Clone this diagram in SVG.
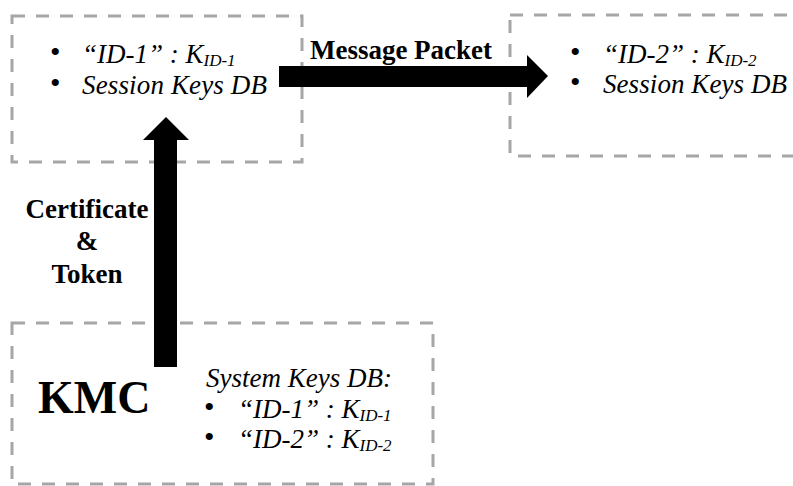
<svg xmlns="http://www.w3.org/2000/svg" width="793" height="486" viewBox="0 0 793 486">
  <style>
    .box { fill: none; stroke: #a6a6a6; stroke-width: 3; stroke-dasharray: 13 11; }
    .it { font-family: "Liberation Serif", "Times New Roman", serif; font-style: italic; font-size: 27px; fill: #000; }
    .sub { font-size: 17px; }
    .bul { font-family: "Liberation Serif", "Times New Roman", serif; font-size: 30px; fill: #000; }
    .bold { font-family: "Liberation Serif", "Times New Roman", serif; font-weight: bold; font-size: 27px; fill: #000; }
    .arrow { fill: #000; }
  </style>
  <rect width="793" height="486" fill="#fff"/>

  <!-- sender node -->
  <g id="node-id1">
    <rect class="box" x="12" y="16" width="290" height="146"/>
    <text class="bul" x="50" y="62">•</text>
    <text class="it" x="82" y="63">“ID-1” : K<tspan class="sub" dy="3">ID-1</tspan></text>
    <text class="bul" x="50" y="93">•</text>
    <text class="it" x="82" y="94" textLength="185">Session Keys DB</text>
  </g>

  <!-- receiver node -->
  <g id="node-id2">
    <rect class="box" x="510" y="15" width="300" height="141"/>
    <text class="bul" x="570" y="62">•</text>
    <text class="it" x="603" y="63">“ID-2” : K<tspan class="sub" dy="3">ID-2</tspan></text>
    <text class="bul" x="570" y="92">•</text>
    <text class="it" x="603" y="93" textLength="184">Session Keys DB</text>
  </g>

  <!-- key management centre -->
  <g id="node-kmc">
    <rect class="box" x="12" y="323" width="421" height="161"/>
    <text class="bold" x="38" y="413" style="font-size:46px">KMC</text>
    <text class="it" x="206" y="387" textLength="186">System Keys DB:</text>
    <text class="bul" x="204" y="417">•</text>
    <text class="it" x="238" y="418">“ID-1” : K<tspan class="sub" dy="3">ID-1</tspan></text>
    <text class="bul" x="204" y="447">•</text>
    <text class="it" x="238" y="448">“ID-2” : K<tspan class="sub" dy="3">ID-2</tspan></text>
  </g>

  <!-- connectors -->
  <g id="connectors">
    <polygon class="arrow" points="154,367 154,140 143,140 166,117 189,140 177,140 177,367"/>
    <polygon class="arrow" points="279,66 527,66 527,55 548,76 527,98 527,87 279,87"/>
    <text class="bold" x="310" y="59" textLength="182">Message Packet</text>
    <text class="bold" x="87" y="218" text-anchor="middle">Certificate</text>
    <text class="bold" x="87" y="250" text-anchor="middle">&amp;</text>
    <text class="bold" x="87" y="283" text-anchor="middle">Token</text>
  </g>
</svg>
